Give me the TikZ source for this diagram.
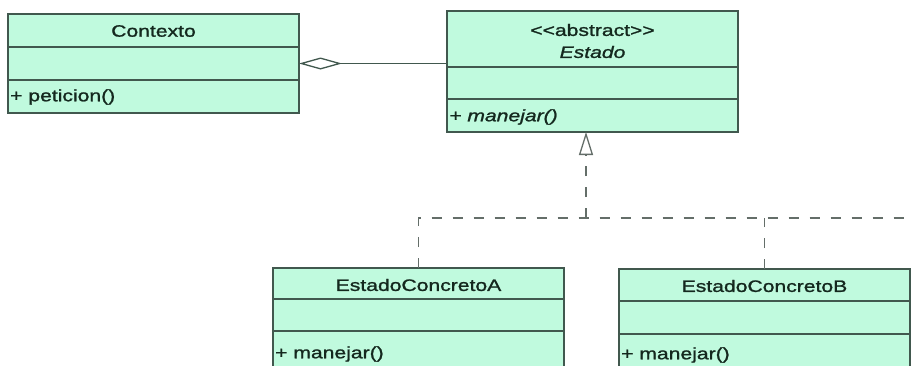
\documentclass[tikz,border=0pt]{standalone}
\usepackage{fontspec}
\setmainfont{Liberation Sans}[FakeStretch=1.28, FakeBold=1.3]
\usetikzlibrary{arrows.meta}
\definecolor{umlfill}{RGB}{192,250,222}
\definecolor{umlline}{RGB}{65,88,78}
\definecolor{umltext}{RGB}{20,40,30}
\definecolor{dashline}{RGB}{100,110,105}
\newcommand{\umlfont}{\fontsize{16.5}{18}\selectfont}
\begin{document}
\begin{tikzpicture}[x=1pt,y=-1pt,
  cls/.style={draw=umlline, fill=umlfill, line width=1.4pt, anchor=north west, inner sep=0pt, outer sep=0pt, minimum width=291pt},
  divider/.style={draw=umlline, line width=1.3pt},
  lbl/.style={inner sep=0pt, text=umltext, font=\umlfont},
  oplbl/.style={lbl, anchor=west},
  assoc/.style={draw=umlline, line width=1.3pt, {Diamond[open, length=43pt, width=12pt, line width=1.3pt]}-},
  realize/.style={draw=dashline, line width=1.3pt, dash pattern=on 10pt off 11pt},
  genarrow/.style={-{Triangle[open, length=23pt, width=14pt, line width=1.3pt]}}
]
\fill[white] (0,0) rectangle (911,365);
\clip (0,0) rectangle (911,365);

% classes
\node[cls, minimum height=99pt] (ctx) at (8,14) {};
\node[cls, minimum height=121pt] (est) at (447,11) {};
\node[cls, minimum height=110pt] (ca) at (273,268) {};
\node[cls, minimum height=110pt] (cb) at (619,269) {};

% dividers
\draw[divider] (ctx.west |- 0,47) -- (ctx.east |- 0,47);
\draw[divider] (ctx.west |- 0,80) -- (ctx.east |- 0,80);
\draw[divider] (est.west |- 0,67) -- (est.east |- 0,67);
\draw[divider] (est.west |- 0,99) -- (est.east |- 0,99);
\draw[divider] (ca.west |- 0,299) -- (ca.east |- 0,299);
\draw[divider] (ca.west |- 0,331) -- (ca.east |- 0,331);
\draw[divider] (cb.west |- 0,301) -- (cb.east |- 0,301);
\draw[divider] (cb.west |- 0,334) -- (cb.east |- 0,334);

% texts
\node[lbl] (ctxname) at (ctx.north |- 0,31) {Contexto};
\node[oplbl] (ctxop) at (10,97) {+ peticion()};
\node[lbl] (estster) at (est.north |- 0,30) {<\kern0pt<abstract>\kern0pt>};
\node[lbl, font=\umlfont\itshape] (estname) at (est.north |- 0,52) {Estado};
\node[oplbl, font=\umlfont\itshape] (estop) at (449,117) {+ manejar()};
\node[lbl] (caname) at (ca.north |- 0,285) {EstadoConcretoA};
\node[oplbl] (caop) at (275,354) {+ manejar()};
\node[lbl] (cbname) at (cb.north |- 0,286) {EstadoConcretoB};
\node[oplbl] (cbop) at (621,355) {+ manejar()};

% aggregation
\draw[assoc] (ctx.east) -- (est.west |- ctx.east);

% generalization (realization tree)
\coordinate (bus) at (586,218);
\draw[realize, genarrow] (bus) -- (est.south -| bus);
\draw[realize] (ca.north) -- (ca.north |- bus) -- ++(520,0);
\draw[realize] (cb.north) -- (cb.north |- bus);
\end{tikzpicture}
\end{document}
